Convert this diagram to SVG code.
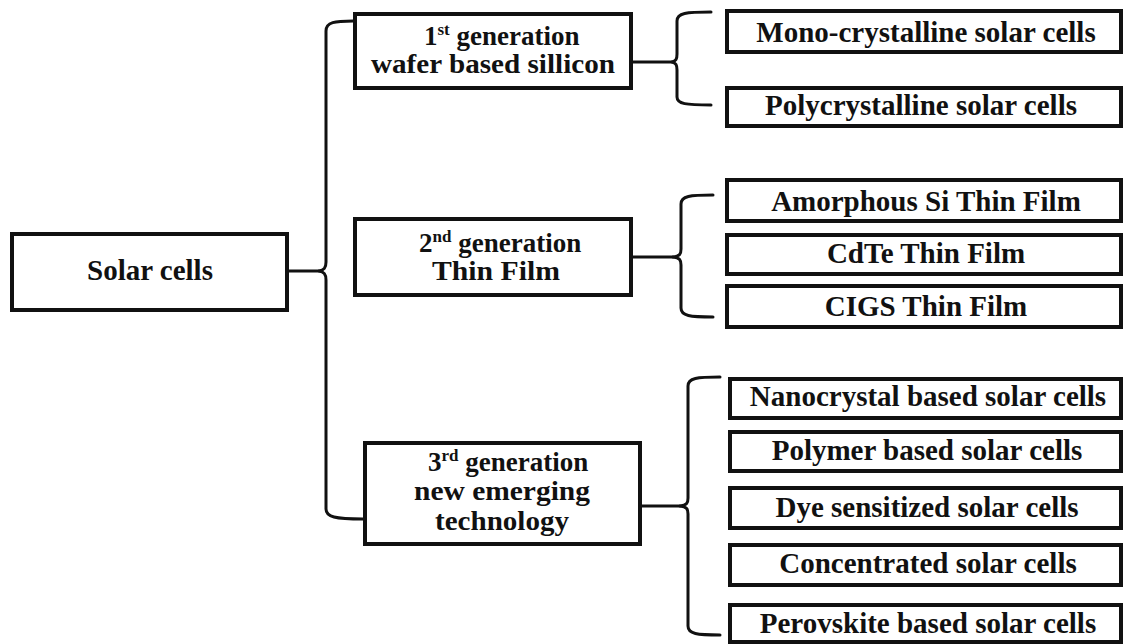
<svg xmlns="http://www.w3.org/2000/svg" width="1124" height="644" viewBox="0 0 1124 644">
<style>
.box{fill:#fff;stroke:#111;stroke-width:4}
text{font-family:'Liberation Serif','Times New Roman',Times,serif;font-weight:bold;fill:#111}
.t{font-size:29px}
.g{font-size:27px}
.m{text-anchor:middle}
.sup{font-size:17px}
.br{fill:none;stroke:#111;stroke-width:3;stroke-linecap:round;stroke-linejoin:round}
</style>
<rect width="1124" height="644" fill="#fff"/>
<g id="connectors">
<path class="br" d="M287 271 L319 271"/>
<path class="br" d="M353 21 C335 21 326 22 326 31 L326 262 C326 268 324 270 319 271 C324 272 326 274 326 280 L326 509 C326 517 335 519 363 519"/>
<path class="br" d="M631 62 L672 62"/>
<path class="br" d="M711 12 C686 12 677 13 677 21 L677 54 C677 59 676 61 672 62 C676 63 677 65 677 70 L677 97 C677 104 686 105 711 105"/>
<path class="br" d="M631 257 L673 257"/>
<path class="br" d="M713 195 C690 195 681 196 681 204 L681 249 C681 254 680 256 673 257 C680 258 681 260 681 265 L681 308 C681 316 690 317 713 317"/>
<path class="br" d="M640 506 L680 506"/>
<path class="br" d="M720 377 C697 377 688 378 688 386 L688 498 C688 503 687 505 680 506 C687 507 688 509 688 514 L688 626 C688 634 697 635 720 635"/>
</g>
<g id="solar-cells">
<rect class="box" x="12" y="234" width="275" height="76"/>
<text class="t m" x="150" y="280" font-family="Liberation Serif, serif">Solar cells</text>
</g>
<g id="gen1">
<rect class="box" x="355" y="14" width="276" height="74"/>
<text class="g" x="424" y="45" font-family="Liberation Serif, serif"><tspan>1</tspan><tspan class="sup" dy="-10">st</tspan><tspan dy="10"> generation</tspan></text>
<text class="g m" x="493" y="73" font-family="Liberation Serif, serif" textLength="244" lengthAdjust="spacingAndGlyphs">wafer based sillicon</text>
</g>
<g id="gen2">
<rect class="box" x="355" y="219" width="276" height="76"/>
<text class="g" x="419" y="252" font-family="Liberation Serif, serif"><tspan>2</tspan><tspan class="sup" dy="-10">nd</tspan><tspan dy="10"> generation</tspan></text>
<text class="g" x="432" y="280" font-family="Liberation Serif, serif" textLength="128" lengthAdjust="spacingAndGlyphs">Thin Film</text>
</g>
<g id="gen3">
<rect class="box" x="365" y="443" width="275" height="101"/>
<text class="g" x="428" y="471" font-family="Liberation Serif, serif"><tspan>3</tspan><tspan class="sup" dy="-10">rd</tspan><tspan dy="10"> generation</tspan></text>
<text class="g" x="414" y="500" font-family="Liberation Serif, serif" textLength="176" lengthAdjust="spacingAndGlyphs">new emerging</text>
<text class="g" x="435" y="530" font-family="Liberation Serif, serif" textLength="134" lengthAdjust="spacingAndGlyphs">technology</text>
</g>
<g id="mono">
<rect class="box" x="727" y="11" width="394" height="41"/>
<text class="t m" x="926" y="42" font-family="Liberation Serif, serif">Mono-crystalline solar cells</text>
</g>
<g id="poly">
<rect class="box" x="727" y="88" width="394" height="38"/>
<text class="t m" x="921" y="115" font-family="Liberation Serif, serif">Polycrystalline solar cells</text>
</g>
<g id="amorphous">
<rect class="box" x="727" y="180" width="394" height="41"/>
<text class="t m" x="926" y="211" font-family="Liberation Serif, serif">Amorphous Si Thin Film</text>
</g>
<g id="cdte">
<rect class="box" x="727" y="235" width="394" height="39"/>
<text class="t m" x="926" y="263" font-family="Liberation Serif, serif">CdTe Thin Film</text>
</g>
<g id="cigs">
<rect class="box" x="727" y="286" width="394" height="41"/>
<text class="t m" x="926" y="316" font-family="Liberation Serif, serif">CIGS Thin Film</text>
</g>
<g id="nanocrystal">
<rect class="box" x="730" y="379" width="391" height="39"/>
<text class="t m" x="928" y="406" font-family="Liberation Serif, serif">Nanocrystal based solar cells</text>
</g>
<g id="polymer">
<rect class="box" x="730" y="432" width="391" height="39"/>
<text class="t m" x="927" y="460" font-family="Liberation Serif, serif">Polymer based solar cells</text>
</g>
<g id="dye">
<rect class="box" x="730" y="488" width="391" height="40"/>
<text class="t m" x="927" y="517" font-family="Liberation Serif, serif">Dye sensitized solar cells</text>
</g>
<g id="concentrated">
<rect class="box" x="730" y="545" width="391" height="40"/>
<text class="t m" x="928" y="573" font-family="Liberation Serif, serif">Concentrated solar cells</text>
</g>
<g id="perovskite">
<rect class="box" x="730" y="605" width="391" height="37"/>
<text class="t m" x="928" y="633" font-family="Liberation Serif, serif">Perovskite based solar cells</text>
</g>
</svg>
